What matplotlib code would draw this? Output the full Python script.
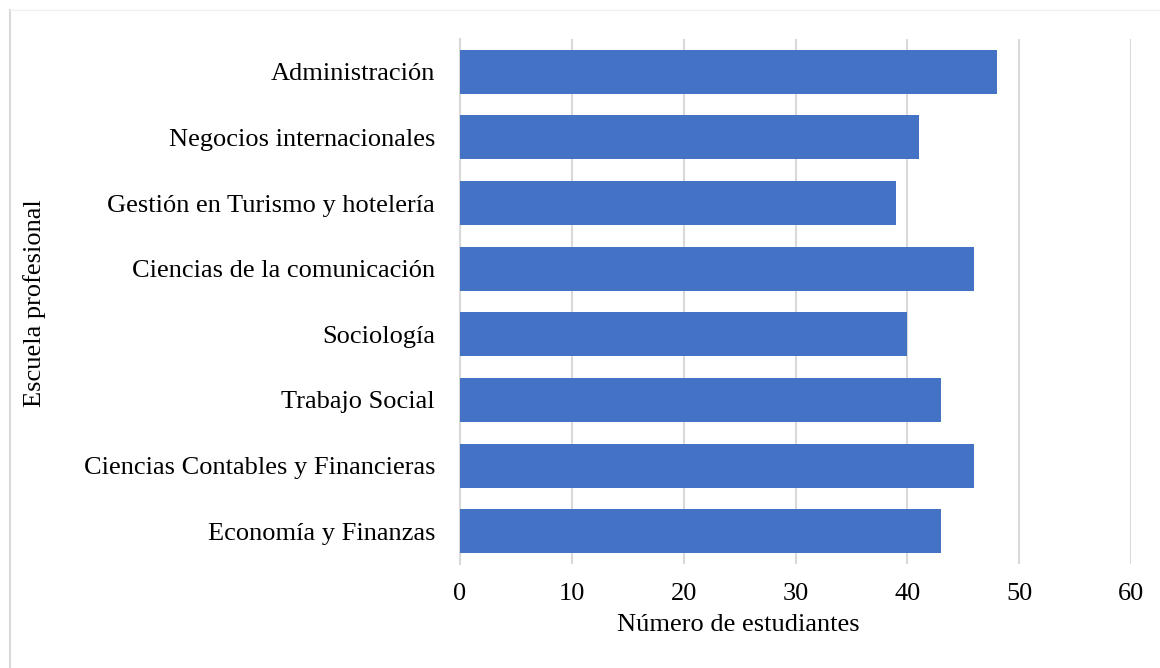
import matplotlib.pyplot as plt
from matplotlib.lines import Line2D

# data (top to bottom as in the chart)
escuelas = [
    "Administración",
    "Negocios internacionales",
    "Gestión en Turismo y hotelería",
    "Ciencias de la comunicación",
    "Sociología",
    "Trabajo Social",
    "Ciencias Contables y Financieras",
    "Economía y Finanzas",
]
estudiantes = [48, 41, 39, 46, 40, 43, 46, 43]
xticks = [0, 10, 20, 30, 40, 50, 60]

plt.rcParams['font.family'] = ['Liberation Serif', 'DejaVu Serif']

fig = plt.figure(figsize=(11.6, 6.68), dpi=100)
ax = fig.add_axes([460 / 1160, 1 - 564 / 668, 671 / 1160, 525 / 668])

pos = list(range(len(escuelas)))[::-1]
ax.barh(pos, estudiantes, height=0.67, color="#4472c4", zorder=3)

ax.set_xlim(0, 60)
ax.set_ylim(-0.5, len(escuelas) - 0.5)
ax.set_xticks(xticks)
ax.set_yticks(pos)
ax.set_yticklabels(escuelas)
ax.grid(axis="x", color="#d9d9d9", linewidth=1.5, zorder=0)
for s in ["top", "right", "bottom"]:
    ax.spines[s].set_visible(False)
ax.spines["left"].set_color("#d9d9d9")
ax.spines["left"].set_linewidth(1.5)
ax.tick_params(axis="both", length=0, labelsize=19, colors="black")
ax.tick_params(axis="y", pad=18)
ax.tick_params(axis="x", pad=14)

ax.set_xlabel("Número de estudiantes", fontsize=19, labelpad=2)
ax.xaxis.set_label_coords((738 - 460) / 671, -0.095)
fig.text(35 / 1160, 1 - 303 / 668, "Escuela profesional", rotation=90,
         fontsize=19, ha="center", va="center")

# chart border lines
fig.add_artist(Line2D([10 / 1160, 10 / 1160], [0, 1 - 10 / 668],
                      transform=fig.transFigure, color="#d9d9d9", lw=1.5))
fig.add_artist(Line2D([10 / 1160, 1], [1 - 10 / 668, 1 - 10 / 668],
                      transform=fig.transFigure, color="#f0f0f0", lw=1))

plt.savefig("out.png", dpi=100)
